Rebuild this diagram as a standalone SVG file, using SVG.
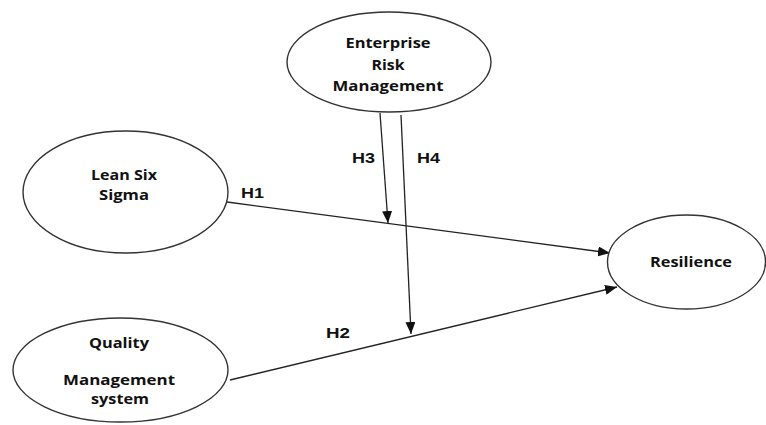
<svg xmlns="http://www.w3.org/2000/svg" width="766" height="425" viewBox="0 0 766 425">
<defs>
<style>
.node ellipse{fill:#fff;stroke:#333;stroke-width:1.4}
.lbl{font-family:"Open Sans","Liberation Sans",sans-serif;font-weight:bold;font-size:14px;fill:#111;text-anchor:middle}
.h{font-family:"Liberation Sans",Arial,sans-serif;font-weight:bold;font-size:15px;fill:#111;text-anchor:middle}
.edge{stroke:#222;stroke-width:1.3;fill:none;marker-end:url(#arr)}
</style>
<marker id="arr" markerUnits="userSpaceOnUse" markerWidth="12" markerHeight="10" viewBox="0 0 12 10" refX="12" refY="5" orient="auto">
<path d="M0,0 L12,5 L0,10 Z" fill="#111"/>
</marker>
</defs>
<rect width="766" height="425" fill="#fff"/>
<g id="connectors">
<line class="edge" x1="227" y1="202" x2="610" y2="253"/>
<line class="edge" x1="230" y1="380" x2="617" y2="287"/>
<line class="edge" x1="380" y1="113" x2="388" y2="223"/>
<line class="edge" x1="401" y1="115" x2="411" y2="334"/>
<text class="h" x="252.5" y="198" textLength="23" lengthAdjust="spacingAndGlyphs">H1</text>
<text class="h" x="338" y="338" textLength="24" lengthAdjust="spacingAndGlyphs">H2</text>
<text class="h" x="363.5" y="163" textLength="23" lengthAdjust="spacingAndGlyphs">H3</text>
<text class="h" x="428.5" y="163" textLength="23" lengthAdjust="spacingAndGlyphs">H4</text>
</g>
<g id="erm" class="node">
<ellipse cx="389" cy="62" rx="102" ry="50"/>
<text class="lbl" x="388" y="48" textLength="85" lengthAdjust="spacingAndGlyphs">Enterprise</text>
<text class="lbl" x="388" y="70" textLength="33" lengthAdjust="spacingAndGlyphs">Risk</text>
<text class="lbl" x="388" y="91" textLength="111" lengthAdjust="spacingAndGlyphs">Management</text>
</g>
<g id="lss" class="node">
<ellipse cx="125.5" cy="192" rx="102.5" ry="61"/>
<text class="lbl" x="124" y="180" textLength="66" lengthAdjust="spacingAndGlyphs">Lean Six</text>
<text class="lbl" x="124" y="200" textLength="50" lengthAdjust="spacingAndGlyphs">Sigma</text>
</g>
<g id="qms" class="node">
<ellipse cx="120.5" cy="370" rx="107.5" ry="52"/>
<text class="lbl" x="119" y="348" textLength="60" lengthAdjust="spacingAndGlyphs">Quality</text>
<text class="lbl" x="119" y="385" textLength="112" lengthAdjust="spacingAndGlyphs">Management</text>
<text class="lbl" x="120" y="404" textLength="58" lengthAdjust="spacingAndGlyphs">system</text>
</g>
<g id="resilience" class="node">
<ellipse cx="686.5" cy="262" rx="79" ry="47"/>
<text class="lbl" x="691" y="267" textLength="82" lengthAdjust="spacingAndGlyphs">Resilience</text>
</g>
</svg>
